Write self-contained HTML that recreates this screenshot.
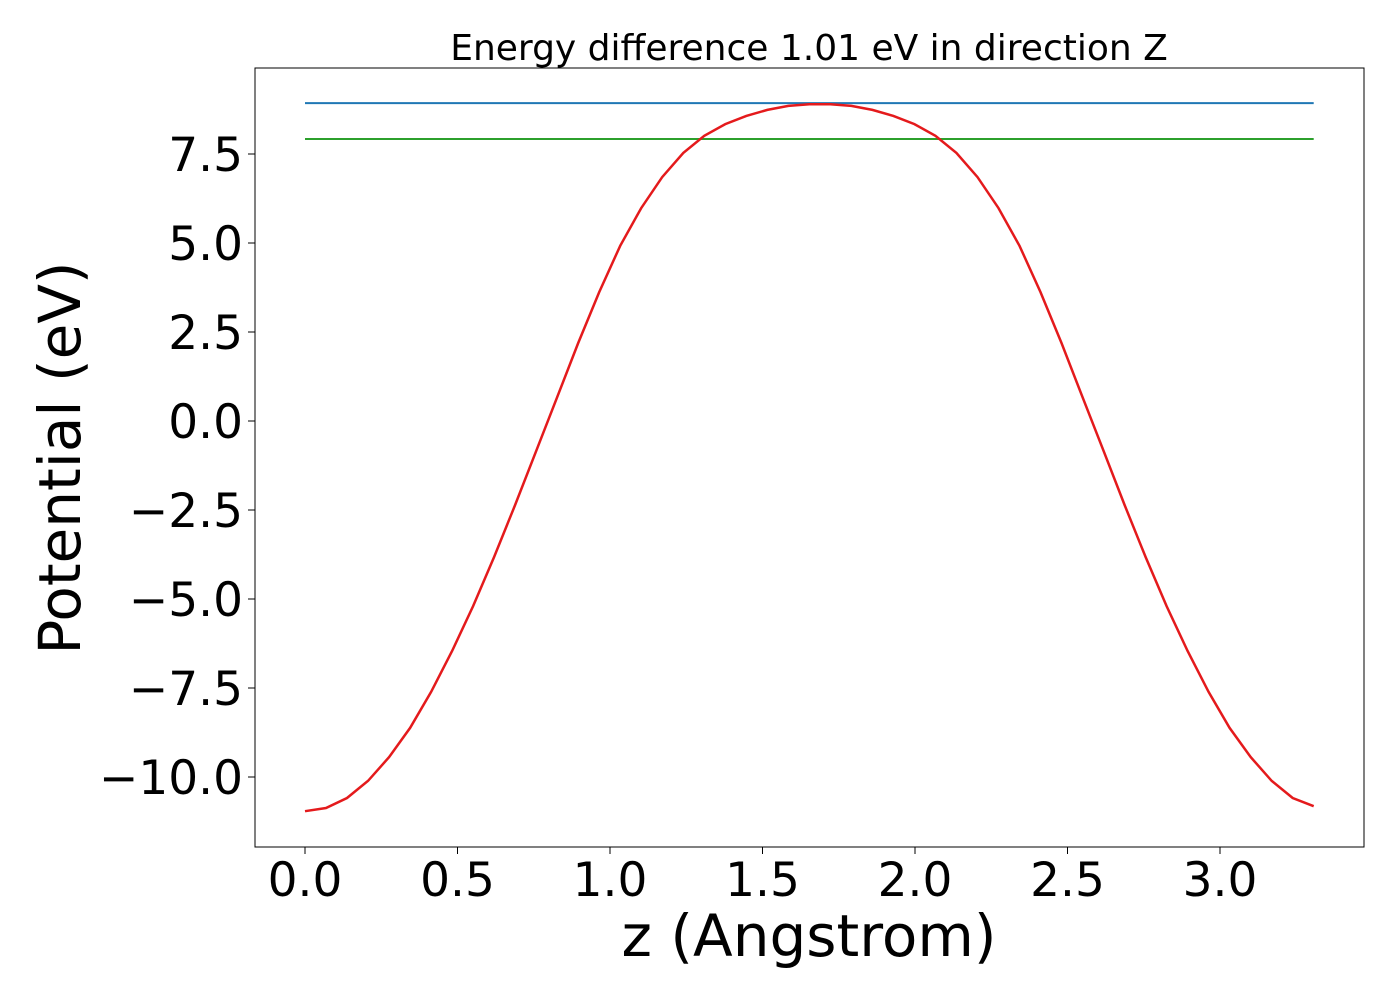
<!DOCTYPE html>
<html><head><meta charset="utf-8"><style>
html,body{margin:0;padding:0;background:#fff;}
svg{display:block;font-family:"DejaVu Sans","Liberation Sans",sans-serif;}
</style></head><body>
<svg id="chart" width="1400" height="1000">
<rect x="0" y="0" width="1400" height="1000" fill="#fff"/>
<g id="plot"></g>
</svg>
<script>
const zStep = 0.0689;
const potential = [-10.96,-10.87,-10.59,-10.11,-9.44,-8.62,-7.61,-6.46,-5.20,-3.82,-2.36,-0.84,0.67,2.19,3.62,4.92,5.98,6.85,7.53,8.01,8.34,8.57,8.74,8.85,8.90,
 8.90,8.85,8.74,8.57,8.34,8.01,7.53,6.85,5.98,4.92,3.62,2.19,0.67,-0.84,-2.36,-3.82,-5.20,-6.46,-7.61,-8.62,-9.44,-10.11,-10.59,-10.82];
const maxLevel = 8.93;
const minusLevel = 7.92;
const xTicks = [0.0,0.5,1.0,1.5,2.0,2.5,3.0];
const yTicks = [-10.0,-7.5,-5.0,-2.5,0.0,2.5,5.0,7.5];

const L=255,R=1364,T=68,B=847;
const X0=305, XS=305;
const Y0=421, YS=35.6;
const sx=v=>X0+v*XS, sy=v=>Y0-v*YS;
const NS="http://www.w3.org/2000/svg";
const g=document.getElementById('plot');
function mk(t,a,p){const e=document.createElementNS(NS,t);for(const k in a)e.setAttribute(k,a[k]);(p||g).appendChild(e);return e;}
const fmt=v=>(v<0?"\u2212":"")+Math.abs(v).toFixed(1);

const frame=mk('rect',{x:L,y:T,width:R-L,height:B-T,fill:'none',stroke:'#000','stroke-width':1});



xTicks.forEach(v=>{
  const tk=mk('line',{x1:sx(v),x2:sx(v),y1:B,y2:B+7,stroke:'#000'});
  
  
  const t=mk('text',{x:sx(v),y:B+49,'font-size':47,'text-anchor':'middle'});
  t.textContent=fmt(v);
  
  
});
yTicks.forEach(v=>{
  const tk=mk('line',{x1:L-7,x2:L,y1:sy(v),y2:sy(v),stroke:'#000'});
  
  
  const t=mk('text',{x:L-12,y:sy(v)+17,'font-size':47,'text-anchor':'end'});
  t.textContent=fmt(v);
  
  
});

const zEnd=(potential.length-1)*zStep;
const bl=mk('line',{x1:sx(0),x2:sx(zEnd),y1:sy(maxLevel),y2:sy(maxLevel),stroke:'#1f77b4','stroke-width':2});


const gl=mk('line',{x1:sx(0),x2:sx(zEnd),y1:sy(minusLevel),y2:sy(minusLevel),stroke:'#2ca02c','stroke-width':2});



const pts=potential.map((v,i)=>sx(i*zStep).toFixed(1)+','+sy(v).toFixed(1)).join(' ');
const pl=mk('polyline',{points:pts,fill:'none',stroke:'#e41a1c','stroke-width':2.5});



const title=mk('text',{x:809,y:60,'font-size':36,'text-anchor':'middle'});
title.textContent='Energy difference 1.01 eV in direction Z';


const xl=mk('text',{x:809,y:956,'font-size':58,'text-anchor':'middle'});
xl.textContent='z (Angstrom)';


const yl=mk('text',{x:0,y:0,'font-size':58,'text-anchor':'middle',transform:'translate(80,458) rotate(-90)'});
yl.textContent='Potential (eV)';


</script>
</body></html>
